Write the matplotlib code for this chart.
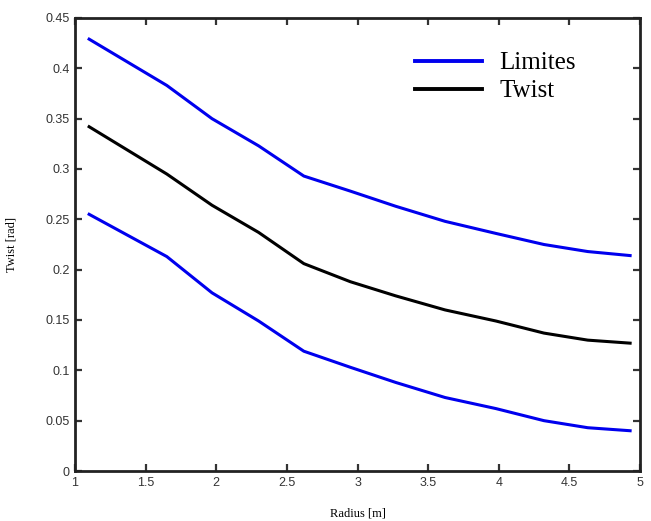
import numpy as np
import matplotlib.pyplot as plt

# radial stations along the blade
radius = [1.1, 1.65, 1.97, 2.3, 2.62, 2.95, 3.27, 3.62, 3.98, 4.32, 4.63, 4.93]

twist = [0.342, 0.295, 0.264, 0.237, 0.206, 0.188, 0.174, 0.160, 0.149, 0.137, 0.130, 0.127]
upper = [0.429, 0.383, 0.350, 0.323, 0.293, 0.278, 0.263, 0.248, 0.236, 0.225, 0.218, 0.214]
lower = [0.255, 0.213, 0.177, 0.149, 0.119, 0.103, 0.088, 0.073, 0.062, 0.050, 0.043, 0.040]

fig = plt.figure(figsize=(6.51, 5.21), dpi=100)
ax = fig.add_axes([75 / 651, 50 / 521, 565 / 651, 453 / 521])

ax.plot(radius, upper, color='#0000ee', lw=2.2, label='Limites')
ax.plot(radius, twist, color='black', lw=2.2, label='Twist')
ax.plot(radius, lower, color='#0000ee', lw=2.2)

ax.set_xlim(1, 5)
ax.set_ylim(0, 0.45)
ax.set_xticks(np.arange(1, 5.01, 0.5))
ax.set_xticklabels(['1', '1.5', '2', '2.5', '3', '3.5', '4', '4.5', '5'])
ax.set_yticks(np.arange(0, 0.451, 0.05))
ax.set_yticklabels(['0', '0.05', '0.1', '0.15', '0.2', '0.25', '0.3', '0.35', '0.4', '0.45'])

ax.tick_params(direction='in', top=True, right=True, length=5, width=1.6,
               labelsize=9, colors='#333333', pad=4)
for lab in ax.get_xticklabels() + ax.get_yticklabels():
    lab.set_family('Liberation Sans')
for s in ax.spines.values():
    s.set_linewidth(2.0)
    s.set_color('#222222')

serif = 'Liberation Serif'
ax.set_xlabel('Radius [m]', fontsize=9, family=serif, labelpad=14)
ax.set_ylabel('Twist [rad]', fontsize=9, family=serif, labelpad=20)

leg = ax.legend(loc='upper left', bbox_to_anchor=(0.562, 0.975), frameon=False,
                prop={'family': serif, 'size': 18}, handlelength=2.67,
                labelspacing=0.22, handletextpad=0.7)
for h in leg.get_lines():
    h.set_linewidth(2.8)

fig.savefig('out.png', dpi=100)
